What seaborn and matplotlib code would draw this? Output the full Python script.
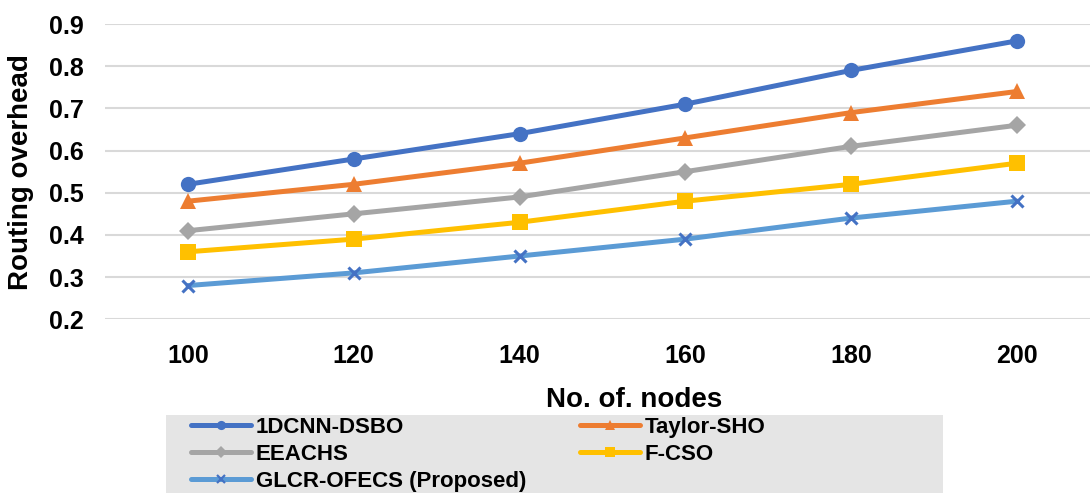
import numpy as np
import pandas as pd
import matplotlib
matplotlib.use("Agg")
import matplotlib.pyplot as plt
from matplotlib.lines import Line2D
from matplotlib.patches import Rectangle
import seaborn as sns

nodes = [100, 120, 140, 160, 180, 200]
dcnn_dsbo = [0.52, 0.58, 0.64, 0.71, 0.79, 0.86]
taylor_sho = [0.48, 0.52, 0.57, 0.63, 0.69, 0.74]
eeachs = [0.41, 0.45, 0.49, 0.55, 0.61, 0.66]
f_cso = [0.36, 0.39, 0.43, 0.48, 0.52, 0.57]
glcr_ofecs = [0.28, 0.31, 0.35, 0.39, 0.44, 0.48]
y_ticks = [0.2, 0.3, 0.4, 0.5, 0.6, 0.7, 0.8, 0.9]

series = [
    ("1DCNN-DSBO", dcnn_dsbo, "#4472C4", "o", "#4472C4", 11, 0),
    ("Taylor-SHO", taylor_sho, "#ED7D31", "^", "#ED7D31", 11.5, 0),
    ("EEACHS", eeachs, "#A5A5A5", "D", "#A5A5A5", 9.5, 0),
    ("F-CSO", f_cso, "#FFC000", "s", "#FFC000", 11, 0),
    ("GLCR-OFECS (Proposed)", glcr_ofecs, "#5B9BD5", "x", "#4472C4", 9, 2.2),
]

sns.set_style("white")
plt.rcParams["font.family"] = ["Liberation Sans", "DejaVu Sans"]
plt.rcParams["font.weight"] = "bold"
plt.rcParams["text.color"] = "black"
plt.rcParams["axes.labelcolor"] = "black"
plt.rcParams["xtick.color"] = "black"
plt.rcParams["ytick.color"] = "black"

fig = plt.figure(figsize=(10.9, 4.93), dpi=100)
W, H = 1090, 493
ax_left, ax_right = 105, 1090
ax_top, ax_bot = 24, 319.3
ax = fig.add_axes([ax_left / W, 1 - ax_bot / H, (ax_right - ax_left) / W, (ax_bot - ax_top) / H])

for name, vals, col, mk, mcol, ms, mew in series:
    df = pd.DataFrame({"nodes": nodes, "val": vals})
    kw = dict(marker=mk, markersize=ms, markerfacecolor=mcol, markeredgecolor=mcol)
    kw["markeredgewidth"] = mew if mew else 0
    sns.lineplot(data=df, x="nodes", y="val", ax=ax, color=col, linewidth=3.6,
                 legend=False, zorder=3, **kw)

px_per = 165.8
ax.set_xlim(100 - 0.5 * 20, 100 - 0.5 * 20 + (ax_right - ax_left) / px_per * 20)
ax.set_ylim(0.2, 0.9)
ax.set_xticks(nodes)
ax.set_xticklabels([str(n) for n in nodes])
ax.set_yticks(y_ticks)
ax.set_yticklabels([f"{t:.1f}" for t in y_ticks])
ax.grid(axis="y", color="#D9D9D9", linewidth=1.5, zorder=0)
ax.grid(axis="x", visible=False)
for s in ax.spines.values():
    s.set_visible(False)
ax.tick_params(axis="both", length=0, labelsize=18, labelcolor="black")
ax.tick_params(axis="x", pad=18)
ax.tick_params(axis="y", pad=15)
for lab in ax.get_xticklabels() + ax.get_yticklabels():
    lab.set_fontweight("bold")

ax.set_xlabel("No. of. nodes", fontsize=20, fontweight="bold", color="black")
ax.xaxis.set_label_coords((634 - ax_left) / (ax_right - ax_left), -(387 - ax_bot) / (ax_bot - ax_top))
ax.set_ylabel("Routing overhead", fontsize=20, fontweight="bold", color="black")
ax.yaxis.set_label_coords((34 - ax_left) / (ax_right - ax_left), 0.5)

fig.patches.append(Rectangle((166 / W, 0), (943 - 166) / W, (H - 415) / H,
                             transform=fig.transFigure, facecolor="#E5E5E5",
                             edgecolor="none", zorder=0))

handles = []
labels = []
order = [0, 2, 4, 1, 3]
for name, vals, col, mk, mcol, ms, mew in series:
    handles.append(Line2D([], [], color=col, linewidth=3.6, marker=mk,
                          markersize=ms * 0.6, markerfacecolor=mcol, markeredgecolor=mcol,
                          markeredgewidth=(1.6 if mew else 0), solid_capstyle="round"))
    labels.append(name)
h2 = [handles[i] for i in order]
l2 = [labels[i] for i in order]
leg = fig.legend(h2, l2, loc="upper left", bbox_to_anchor=(191 / W, 1 - 417 / H),
                 ncol=2, frameon=False, fontsize=16, handlelength=2.7,
                 handletextpad=0.22, columnspacing=2.4, labelspacing=0.27,
                 borderpad=0, borderaxespad=0)
for t in leg.get_texts():
    t.set_fontweight("bold")
    t.set_color("black")

fig.savefig("out.png", dpi=100)
